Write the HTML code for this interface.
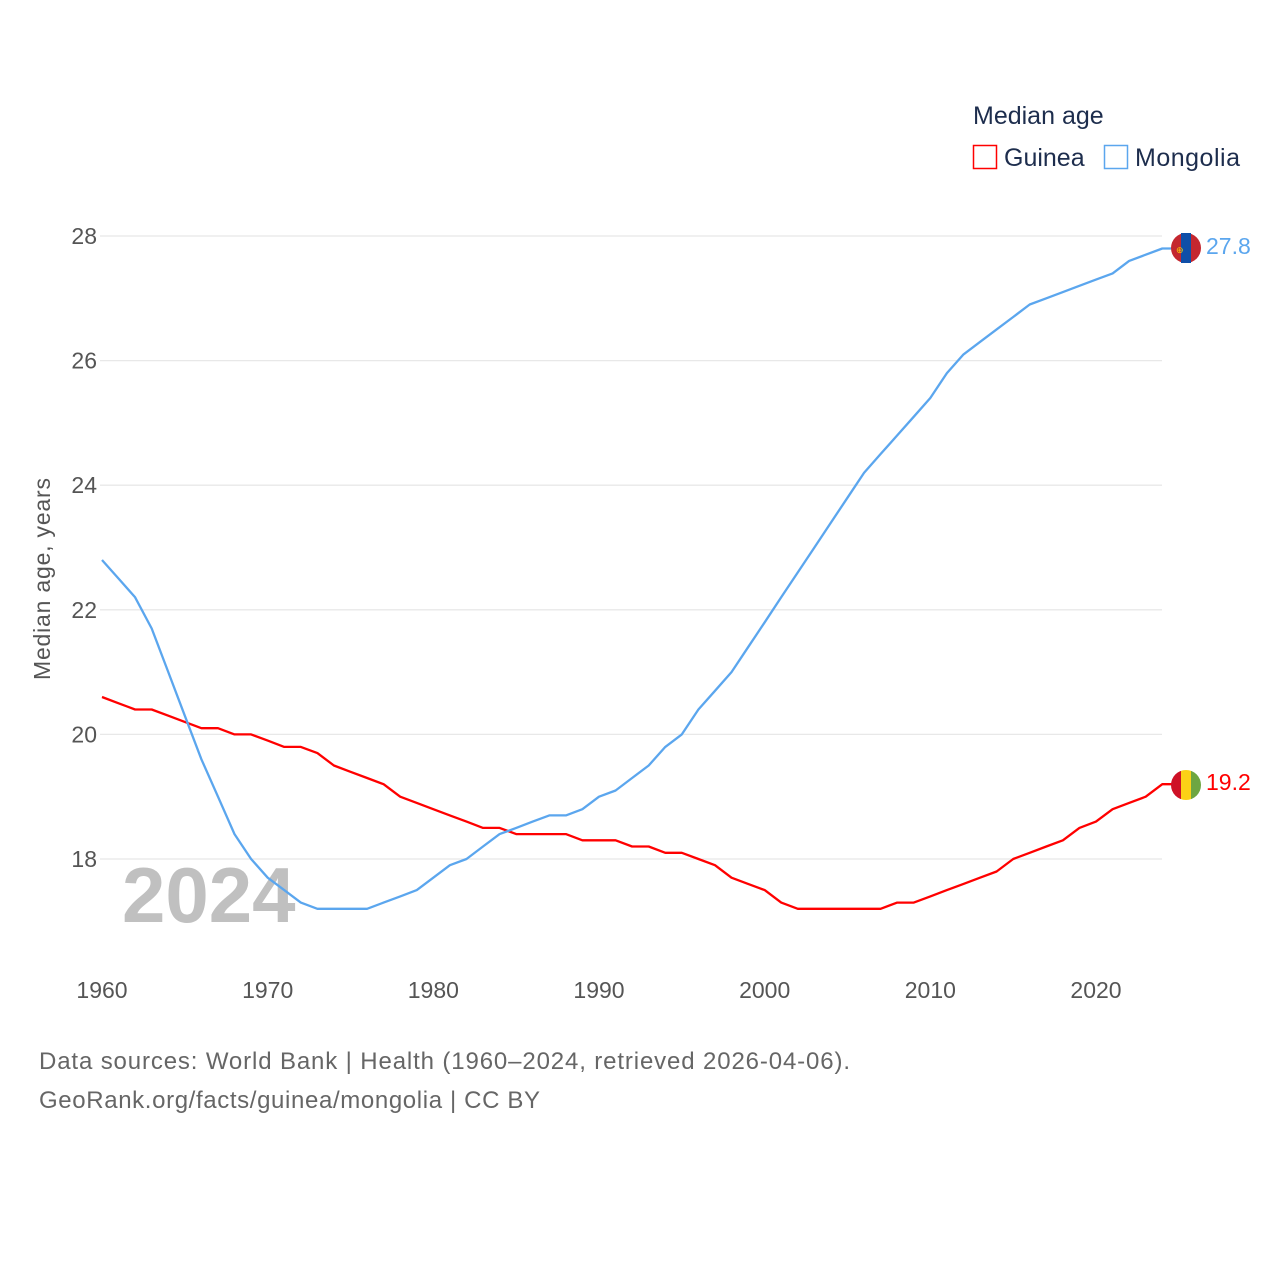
<!DOCTYPE html>
<html><head><meta charset="utf-8"><style>
body{margin:0;background:#fff;}
svg text{font-family:"Liberation Sans",sans-serif;}
</style></head><body>
<svg id="chart" width="1280" height="1280" xmlns="http://www.w3.org/2000/svg">
<text x="973" y="124" font-size="25" fill="#1d2d4d">Median age</text>
<g><rect x="973.5" y="145.5" width="23" height="23" fill="none" stroke="#ff0000" stroke-width="1.5"/><text x="1004" y="166" font-size="25" fill="#1d2d4d">Guinea</text></g>
<g><rect x="1104.5" y="145.5" width="23" height="23" fill="none" stroke="#5ba6ee" stroke-width="1.5"/><text x="1135" y="166" font-size="25" fill="#1d2d4d" textLength="105">Mongolia</text></g>
<g id="grid"></g><g id="yt"></g><g id="xt"></g>
<text transform="translate(50,579) rotate(-90)" text-anchor="middle" font-size="23" fill="#555" textLength="202">Median age, years</text>
<text x="122" y="922" font-size="78" font-weight="bold" fill="#c0c0c0">2024</text>
<g id="lines"></g>
<g><circle cx="1186" cy="248" r="15" fill="#c4272f"/><rect x="1181" y="233" width="10" height="30" fill="#0f4fa8"/><text x="1176" y="253" font-size="9" fill="#f9cf02">⊕</text></g>
<g><clipPath id="cg"><circle cx="1186" cy="785" r="15"/></clipPath><g clip-path="url(#cg)"><rect x="1171" y="770" width="10" height="30" fill="#ce1126"/><rect x="1181" y="770" width="10" height="30" fill="#fcd116"/><rect x="1191" y="770" width="10" height="30" fill="#6ea642"/></g></g>
<text x="1206" y="254" font-size="23" fill="#5ba6ee">27.8</text>
<text x="1206" y="790" font-size="23" fill="#ff0000">19.2</text>
<text x="39" y="1069" font-size="24" fill="#666" textLength="811">Data sources: World Bank | Health (1960–2024, retrieved 2026-04-06).</text>
<text x="39" y="1108" font-size="24" fill="#666" textLength="501">GeoRank.org/facts/guinea/mongolia | CC BY</text>
</svg>
<script>
const years=[];for(let y=1960;y<=2024;y++)years.push(y);
const guinea=[20.6,20.5,20.4,20.4,20.3,20.2,20.1,20.1,20.0,20.0,19.9,19.8,19.8,19.7,19.5,19.4,19.3,19.2,19.0,18.9,18.8,18.7,18.6,18.5,18.5,18.4,18.4,18.4,18.4,18.3,18.3,18.3,18.2,18.2,18.1,18.1,18.0,17.9,17.7,17.6,17.5,17.3,17.2,17.2,17.2,17.2,17.2,17.2,17.3,17.3,17.4,17.5,17.6,17.7,17.8,18.0,18.1,18.2,18.3,18.5,18.6,18.8,18.9,19.0,19.2];
const mongolia=[22.8,22.5,22.2,21.7,21.0,20.3,19.6,19.0,18.4,18.0,17.7,17.5,17.3,17.2,17.2,17.2,17.2,17.3,17.4,17.5,17.7,17.9,18.0,18.2,18.4,18.5,18.6,18.7,18.7,18.8,19.0,19.1,19.3,19.5,19.8,20.0,20.4,20.7,21.0,21.4,21.8,22.2,22.6,23.0,23.4,23.8,24.2,24.5,24.8,25.1,25.4,25.8,26.1,26.3,26.5,26.7,26.9,27.0,27.1,27.2,27.3,27.4,27.6,27.7,27.8];
const yTicks=[18,20,22,24,26,28];
const xTicks=[1960,1970,1980,1990,2000,2010,2020];
const ns="http://www.w3.org/2000/svg";
const X=y=>102+(y-1960)*(1096-102)/60;
const Y=v=>236+(28-v)*62.3;
const g=document.getElementById('grid'),yt=document.getElementById('yt'),xt=document.getElementById('xt'),L=document.getElementById('lines');
function mk(t,a,p){const e=document.createElementNS(ns,t);for(const k in a)e.setAttribute(k,a[k]);p.appendChild(e);return e;}
yTicks.forEach(v=>{
 const l=mk('line',{x1:100,x2:1162,y1:Y(v),y2:Y(v),stroke:'#e8e8e8','stroke-width':1.3},g);
 
 
 const t=mk('text',{x:97,y:Y(v)+8,'text-anchor':'end','font-size':23,fill:'#555'},yt);t.textContent=v;
 
 
});
xTicks.forEach(v=>{
 const t=mk('text',{x:X(v),y:998,'text-anchor':'middle','font-size':23,fill:'#555'},xt);t.textContent=v;
 
 
});
function line(data,color,name){
 let d=data.map((v,i)=>(i?'L':'M')+X(years[i]).toFixed(1)+','+Y(v).toFixed(1)).join('');
 d+='L1172,'+Y(data[data.length-1]).toFixed(1);
 const p=mk('path',{d:d,fill:'none',stroke:color,'stroke-width':2.3,'stroke-linejoin':'round'},L);
 
 
}
line(guinea,'#ff0000','guinea-line');
line(mongolia,'#5ba6ee','mongolia-line');
</script>
</body></html>
